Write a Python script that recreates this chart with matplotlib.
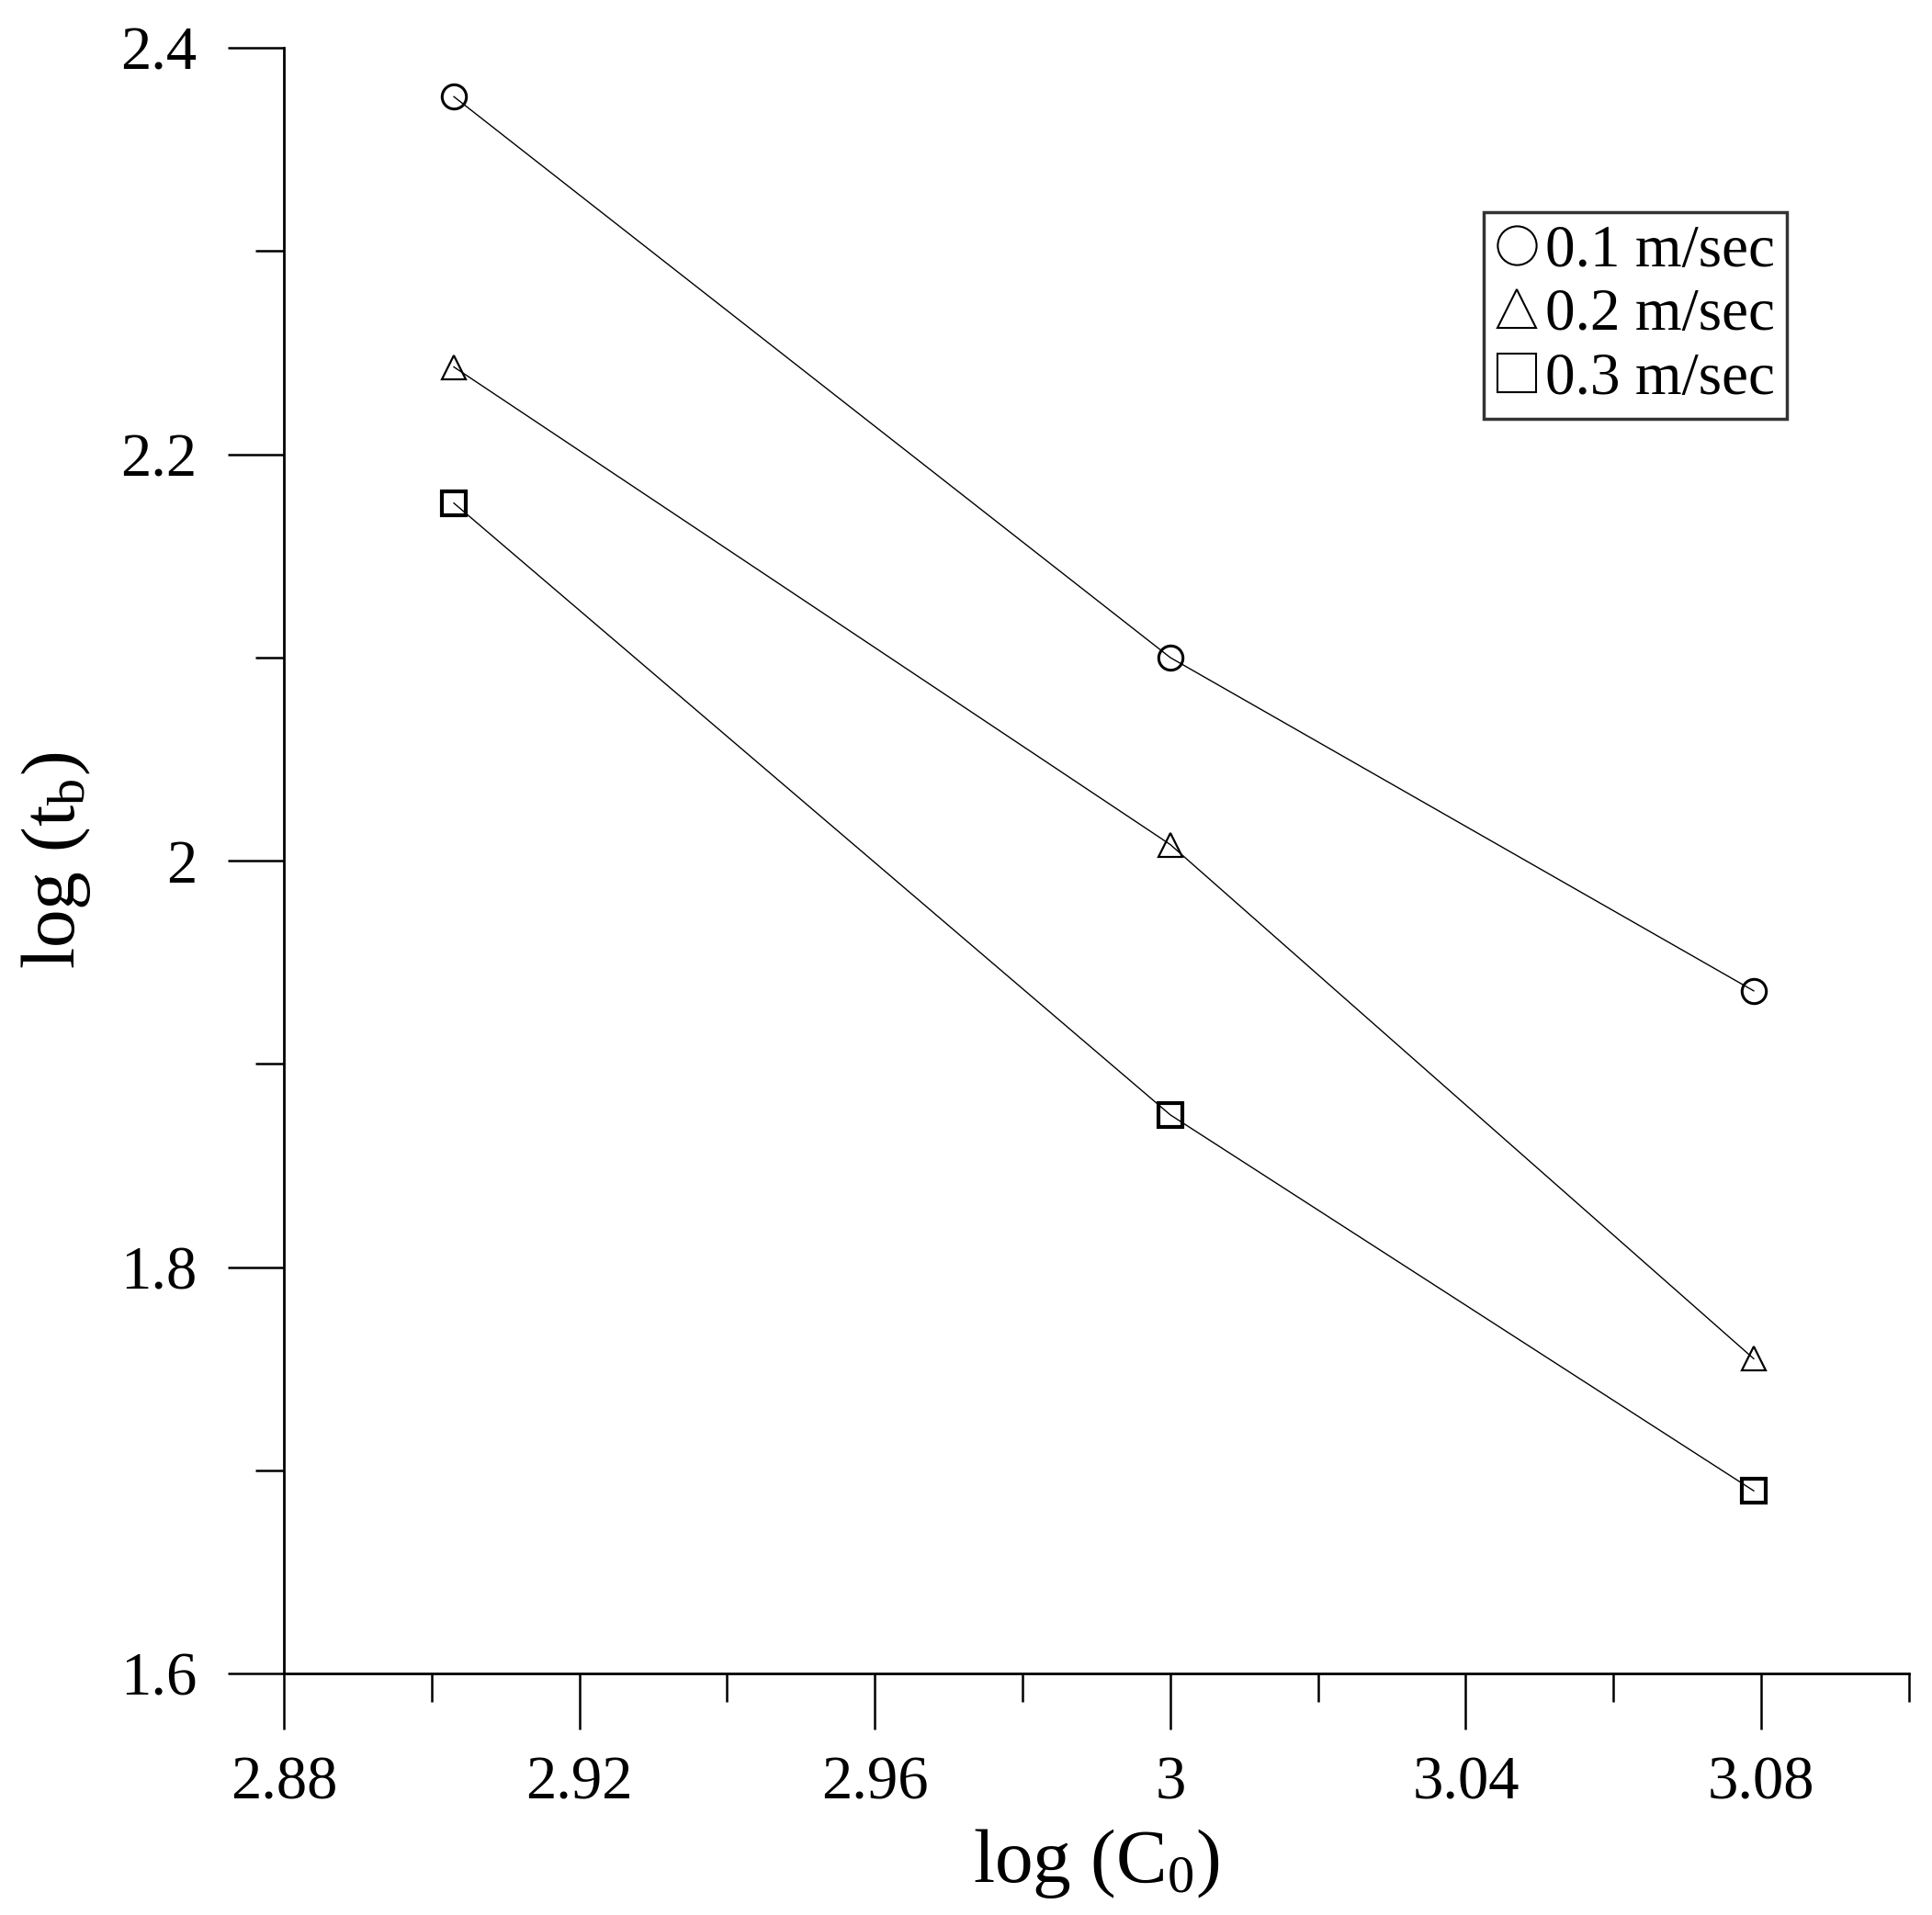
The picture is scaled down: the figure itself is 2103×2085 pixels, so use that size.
import numpy as np
import matplotlib
matplotlib.use("Agg")
import matplotlib.pyplot as plt

# === Data ===
log_c0 = [2.903, 3.000, 3.079]
speeds = ['0.1 m/sec', '0.2 m/sec', '0.3 m/sec']
tb_01 = [2.376, 2.100, 1.936]
tb_02 = [2.243, 2.008, 1.755]
tb_03 = [2.176, 1.875, 1.690]
markers = ['o', '^', 's']

x_major = [2.88, 2.92, 2.96, 3.00, 3.04, 3.08]
x_labels = ['2.88', '2.92', '2.96', '3', '3.04', '3.08']
y_major = [1.6, 1.8, 2.0, 2.2, 2.4]
y_labels = ['1.6', '1.8', '2', '2.2', '2.4']

# === Style ===
plt.rcParams['font.family'] = ['Liberation Serif', 'DejaVu Serif']
plt.rcParams['mathtext.fontset'] = 'custom'
plt.rcParams['mathtext.rm'] = 'Liberation Serif'
plt.rcParams['mathtext.it'] = 'Liberation Serif'

fig = plt.figure(figsize=(21.03, 20.85), dpi=100)
ax = fig.add_axes([0.147, 0.126, 0.841, 0.849])

edge_w = {'o': 2.2, '^': 1.6, 's': 3.0}
for vals, m, lab in zip([tb_01, tb_02, tb_03], markers, speeds):
    ax.plot(log_c0, vals, color='black', lw=1.0, zorder=3)
    ax.plot(log_c0, vals, ls='none', marker=m, ms=19, mfc='none', mec='black',
            mew=edge_w[m], label=lab, zorder=2)

ax.set_xlim(2.88, 3.10)
ax.set_ylim(1.6, 2.4)
ax.set_xticks(x_major)
ax.set_xticklabels(x_labels)
ax.set_xticks(np.arange(2.90, 3.10, 0.04), minor=True)
ax.set_yticks(y_major)
ax.set_yticklabels(y_labels)
ax.set_yticks([1.7, 1.9, 2.1, 2.3], minor=True)

for s in ['top', 'right']:
    ax.spines[s].set_visible(False)
for s in ['left', 'bottom']:
    ax.spines[s].set_linewidth(2.0)

ax.tick_params(axis='both', which='major', direction='out', length=44, width=1.8,
               labelsize=48)
ax.tick_params(axis='both', which='minor', direction='out', length=22, width=1.8)
ax.tick_params(axis='x', which='major', pad=20)
ax.tick_params(axis='y', which='major', pad=24)

ax.set_xlabel('log (C$_\\mathrm{0}$)', fontsize=60, labelpad=12)
ax.set_ylabel('log (t$_\\mathrm{b}$)', fontsize=60, labelpad=22)

leg = ax.legend(loc='upper right', bbox_to_anchor=(0.925, 0.899), fontsize=47,
                frameon=True, fancybox=False, edgecolor='black', markerscale=1.6,
                handlelength=0.7, handletextpad=0.12, labelspacing=0.15,
                borderpad=0.2, borderaxespad=0.0)
leg.get_frame().set_linewidth(2.5)
for h in leg.legend_handles:
    h.set_markeredgewidth(1.5)

fig.savefig('out.png', dpi=100)
